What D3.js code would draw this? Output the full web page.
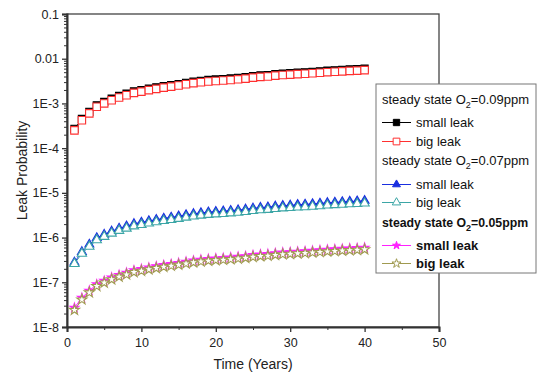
<!DOCTYPE html>
<html>
<head>
<meta charset="utf-8">
<script src="https://cdn.jsdelivr.net/npm/d3@7"></script>
<style>
  body { margin: 0; background: #fff; }
  svg { font-family: "Liberation Sans", Arial, sans-serif; }
</style>
</head>
<body>
<div id="chart"></div>
<script>
// years 1..40
const years = d3.range(1, 41);

const small09 = [2.7e-4, 4.5e-4, 6.5e-4, 9.1e-4, 1.08e-3, 1.28e-3, 1.47e-3, 1.65e-3, 1.86e-3, 2.0e-3,
  2.15e-3, 2.3e-3, 2.45e-3, 2.58e-3, 2.72e-3, 2.9e-3, 3.08e-3, 3.22e-3, 3.35e-3, 3.44e-3,
  3.52e-3, 3.63e-3, 3.75e-3, 3.88e-3, 4.08e-3, 4.24e-3, 4.33e-3, 4.52e-3, 4.67e-3, 4.76e-3,
  4.89e-3, 4.98e-3, 5.1e-3, 5.25e-3, 5.4e-3, 5.52e-3, 5.65e-3, 5.78e-3, 5.86e-3, 6.0e-3];
const big09 = [2.5e-4, 4.2e-4, 6.0e-4, 8.4e-4, 1.0e-3, 1.18e-3, 1.36e-3, 1.52e-3, 1.72e-3, 1.84e-3,
  1.98e-3, 2.12e-3, 2.26e-3, 2.38e-3, 2.52e-3, 2.68e-3, 2.85e-3, 2.98e-3, 3.1e-3, 3.18e-3,
  3.25e-3, 3.35e-3, 3.46e-3, 3.58e-3, 3.78e-3, 3.92e-3, 4.0e-3, 4.18e-3, 4.32e-3, 4.4e-3,
  4.52e-3, 4.6e-3, 4.72e-3, 4.85e-3, 5.0e-3, 5.1e-3, 5.22e-3, 5.34e-3, 5.42e-3, 5.55e-3];
const small07 = [2.8e-7, 4.8e-7, 7.0e-7, 9.8e-7, 1.17e-6, 1.38e-6, 1.6e-6, 1.8e-6, 2.03e-6, 2.18e-6,
  2.35e-6, 2.51e-6, 2.68e-6, 2.83e-6, 3.0e-6, 3.2e-6, 3.4e-6, 3.56e-6, 3.71e-6, 3.8e-6,
  3.88e-6, 4.01e-6, 4.13e-6, 4.28e-6, 4.52e-6, 4.7e-6, 4.79e-6, 5.01e-6, 5.18e-6, 5.27e-6,
  5.42e-6, 5.51e-6, 5.66e-6, 5.81e-6, 6.0e-6, 6.12e-6, 6.26e-6, 6.41e-6, 6.5e-6, 6.66e-6];
const big07 = [2.6e-7, 4.4e-7, 6.3e-7, 8.8e-7, 1.05e-6, 1.24e-6, 1.43e-6, 1.6e-6, 1.8e-6, 1.93e-6,
  2.08e-6, 2.22e-6, 2.37e-6, 2.5e-6, 2.65e-6, 2.82e-6, 2.99e-6, 3.13e-6, 3.26e-6, 3.34e-6,
  3.41e-6, 3.52e-6, 3.63e-6, 3.76e-6, 3.97e-6, 4.12e-6, 4.2e-6, 4.39e-6, 4.54e-6, 4.62e-6,
  4.75e-6, 4.83e-6, 4.96e-6, 5.09e-6, 5.25e-6, 5.36e-6, 5.48e-6, 5.61e-6, 5.69e-6, 5.83e-6];
const small05 = [2.7e-8, 4.5e-8, 6.5e-8, 9.0e-8, 1.08e-7, 1.28e-7, 1.46e-7, 1.64e-7, 1.85e-7, 1.98e-7,
  2.13e-7, 2.28e-7, 2.43e-7, 2.56e-7, 2.71e-7, 2.88e-7, 3.06e-7, 3.2e-7, 3.33e-7, 3.42e-7,
  3.5e-7, 3.6e-7, 3.72e-7, 3.85e-7, 4.06e-7, 4.21e-7, 4.29e-7, 4.49e-7, 4.64e-7, 4.73e-7,
  4.85e-7, 4.94e-7, 5.07e-7, 5.21e-7, 5.37e-7, 5.48e-7, 5.61e-7, 5.73e-7, 5.82e-7, 5.96e-7];
const big05 = [2.4e-8, 4.1e-8, 5.9e-8, 8.2e-8, 9.8e-8, 1.16e-7, 1.33e-7, 1.49e-7, 1.68e-7, 1.8e-7,
  1.94e-7, 2.07e-7, 2.21e-7, 2.33e-7, 2.46e-7, 2.62e-7, 2.78e-7, 2.91e-7, 3.03e-7, 3.11e-7,
  3.18e-7, 3.27e-7, 3.38e-7, 3.5e-7, 3.69e-7, 3.83e-7, 3.9e-7, 4.08e-7, 4.22e-7, 4.3e-7,
  4.41e-7, 4.49e-7, 4.61e-7, 4.74e-7, 4.88e-7, 4.98e-7, 5.1e-7, 5.21e-7, 5.29e-7, 5.42e-7];

const yTicks = [0.1, 0.01, 1e-3, 1e-4, 1e-5, 1e-6, 1e-7, 1e-8];
const yTickLabels = ["0.1", "0.01", "1E-3", "1E-4", "1E-5", "1E-6", "1E-7", "1E-8"];
const xTicks = [0, 10, 20, 30, 40, 50];
const groupNames = ["0.09", "0.07", "0.05"];
const seriesNames = ["small leak", "big leak"];

const series = [
  { data: small09, color: "#000000", sym: d3.symbolSquare, size: 50, filled: true, group: 0, bold: false },
  { data: big09, color: "#ff3030", sym: d3.symbolSquare, size: 56, filled: false, group: 0, bold: false },
  { data: small07, color: "#1a2fe0", sym: d3.symbolTriangle, size: 34, filled: true, group: 1, bold: false },
  { data: big07, color: "#3ca6a6", sym: d3.symbolTriangle, size: 38, filled: false, group: 1, bold: false },
  { data: small05, color: "#ff20ff", sym: d3.symbolStar, size: 24, filled: true, group: 2, bold: true },
  { data: big05, color: "#a09a50", sym: d3.symbolStar, size: 32, filled: false, group: 2, bold: true }
];

const W = 539, H = 376;
const pL = 67, pR = 439, pT = 14, pB = 327;

const svg = d3.select("#chart").append("svg")
  .attr("width", W).attr("height", H);

const x = d3.scaleLinear().domain([0, 50]).range([pL, pR]);
const y = d3.scaleLog().domain([1e-8, 0.1]).range([pB, pT]);

// frame
svg.append("rect")
  .attr("x", pL).attr("y", pT)
  .attr("width", pR - pL).attr("height", pB - pT)
  .attr("fill", "none").attr("stroke", "#444").attr("stroke-width", 1.3);

// y axis
const minorY = [];
yTicks.slice(1).forEach(d => { for (let k = 2; k <= 9; k++) minorY.push(d * k); });

svg.append("g").attr("transform", `translate(${pL},0)`)
  .call(d3.axisLeft(y).tickValues(minorY).tickSize(3).tickFormat(""))
  .call(g => g.select(".domain").remove())
  .selectAll("line").attr("stroke", "#333");

const yAx = svg.append("g").attr("transform", `translate(${pL},0)`)
  .call(d3.axisLeft(y).tickValues(yTicks).tickSize(5).tickPadding(3)
    .tickFormat((d, i) => yTickLabels[i]));
yAx.select(".domain").attr("stroke", "#333").attr("stroke-width", 2);
yAx.selectAll("line").attr("stroke", "#333").attr("stroke-width", 1.3);
yAx.selectAll("text").attr("font-size", "12.5px").attr("fill", "#222");

// x axis
svg.append("g").attr("transform", `translate(0,${pB})`)
  .call(d3.axisBottom(x).tickValues([5, 15, 25, 35, 45]).tickSize(3).tickFormat(""))
  .call(g => g.select(".domain").remove())
  .selectAll("line").attr("stroke", "#333");

const xAx = svg.append("g").attr("transform", `translate(0,${pB})`)
  .call(d3.axisBottom(x).tickValues(xTicks).tickSize(5).tickPadding(6));
xAx.select(".domain").attr("stroke", "#333").attr("stroke-width", 2);
xAx.selectAll("line").attr("stroke", "#333").attr("stroke-width", 1.3);
xAx.selectAll("text").attr("font-size", "12.5px").attr("fill", "#222");

// axis titles
svg.append("text")
  .attr("x", (pL + pR) / 2).attr("y", 369)
  .attr("text-anchor", "middle").attr("font-size", "14px").attr("fill", "#222")
  .text("Time (Years)");
svg.append("text")
  .attr("transform", `translate(27,${(pT + pB) / 2}) rotate(-90)`)
  .attr("text-anchor", "middle").attr("font-size", "14px").attr("fill", "#222")
  .text("Leak Probability");

// series
const line = d3.line().x((d, i) => x(years[i])).y(d => y(d));
series.forEach(s => {
  const g = svg.append("g");
  g.append("path").datum(s.data)
    .attr("d", line).attr("fill", "none")
    .attr("stroke", s.color).attr("stroke-width", 1);
  g.selectAll("path.pt").data(s.data).join("path")
    .attr("class", "pt")
    .attr("transform", (d, i) => `translate(${x(years[i])},${y(d)})`)
    .attr("d", d3.symbol().type(s.sym).size(s.size))
    .attr("fill", s.filled ? s.color : "#fff")
    .attr("stroke", s.color).attr("stroke-width", 1.1);
});

// legend
const leg = svg.append("g");
leg.append("rect")
  .attr("x", 376).attr("y", 84).attr("width", 160).attr("height", 189)
  .attr("fill", "#fff").attr("stroke", "#777").attr("stroke-width", 1);

const headY = [104, 165, 227];
const rowY = [[127, 146], [189, 207], [250, 268]];
groupNames.forEach((name, gi) => {
  const bold = gi === 2;
  const t = leg.append("text")
    .attr("x", 382).attr("y", headY[gi])
    .attr("font-size", bold ? "12.3px" : "13px").attr("fill", "#111")
    .attr("font-weight", bold ? "bold" : "normal");
  t.append("tspan").text("steady state O");
  t.append("tspan").attr("dy", 4).attr("font-size", "9px").text("2");
  t.append("tspan").attr("dy", -4).text("=" + name + "ppm");
});

series.forEach((s, si) => {
  const ry = rowY[s.group][si % 2];
  leg.append("line")
    .attr("x1", 382).attr("x2", 411).attr("y1", ry - 4.5).attr("y2", ry - 4.5)
    .attr("stroke", s.color).attr("stroke-width", 1);
  leg.append("path")
    .attr("transform", `translate(396.5,${ry - 4.5})`)
    .attr("d", d3.symbol().type(s.sym).size(s.size * 0.8))
    .attr("fill", s.filled ? s.color : "#fff")
    .attr("stroke", s.color).attr("stroke-width", 1);
  leg.append("text")
    .attr("x", 416).attr("y", ry)
    .attr("font-size", "13px").attr("fill", "#111")
    .attr("font-weight", s.bold ? "bold" : "normal")
    .text(seriesNames[si % 2]);
});
</script>
</body>
</html>
